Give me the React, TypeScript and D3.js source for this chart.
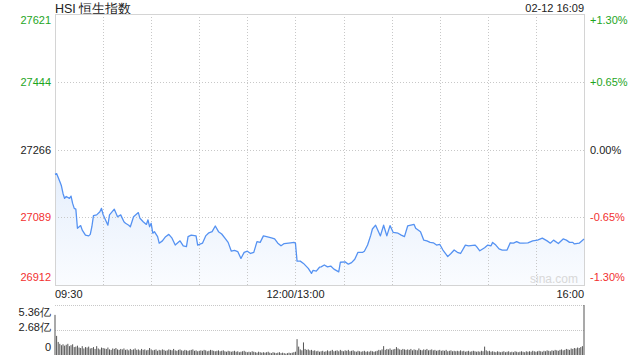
import React from "react";
import * as d3 from "d3";

const title = "HSI 恒生指数";
const stamp = "02-12 16:09";
const prevClose = 27266;
const pctTicks = [1.3, 0.65, 0, -0.65, -1.3];
const leftLabels = ["27621", "27444", "27266", "27089", "26912"];
const rightLabels = ["+1.30%", "+0.65%", "0.00%", "-0.65%", "-1.30%"];
const timeLabels = ["09:30", "12:00/13:00", "16:00"];
const timeLabelMinutes = [0, 150, 330];
const volLabels = ["5.36亿", "2.68亿", "0"];
const volTicks = [5.36, 2.68, 0];

// minutes on trading clock since 09:30 (lunch removed)
const minutes = [
  0, 1, 3, 4, 5, 6, 7, 9, 10, 11, 12, 13, 14, 16, 17, 19, 21, 22, 23, 24, 26, 28, 29, 30, 33, 34, 37, 39, 41, 43,
  44, 46, 47, 49, 52, 53, 55, 57, 58, 59, 60, 61, 62, 64, 65, 67, 69, 71, 73, 75, 78, 80, 82, 83, 85, 88, 89, 92,
  94, 96, 98, 100, 102, 104, 106, 108, 110, 112, 114, 116, 118, 120, 122, 124, 126, 128, 130, 132, 135, 137, 139,
  141, 143, 147, 149, 150, 151, 153, 155, 158, 160, 161, 163, 165, 166, 168, 170, 172, 174, 177, 178, 181, 183,
  185, 187, 189, 192, 193, 195, 197, 198, 200, 203, 205, 207, 209, 211, 214, 216, 218, 220, 222, 224, 225, 228,
  230, 232, 234, 236, 238, 240, 242, 245, 247, 249, 251, 253, 256, 258, 262, 263, 265, 268, 270, 272, 273, 275,
  277, 279, 282, 284, 286, 288, 290, 292, 295, 298, 301, 304, 307, 309, 311, 314, 317, 319, 321, 323, 324, 327, 330,
];
const prices = [
  27201, 27203, 27182, 27171, 27151, 27138, 27143, 27138, 27144, 27125, 27112, 27110, 27060, 27067, 27055, 27042,
  27040, 27044, 27064, 27093, 27095, 27103, 27112, 27096, 27068, 27095, 27110, 27090, 27095, 27077, 27073, 27068,
  27064, 27090, 27101, 27086, 27077, 27070, 27082, 27064, 27073, 27047, 27051, 27038, 27021, 27027, 27038, 27044,
  27034, 27016, 27027, 27014, 27012, 27038, 27042, 27040, 27016, 27021, 27040, 27048, 27051, 27066, 27051, 27045,
  27034, 27023, 27000, 27002, 26999, 26981, 26997, 27000, 26994, 26997, 27025, 27023, 27040, 27038, 27035, 27032,
  27021, 27014, 27020, 27022, 27023, 27021, 26974, 26974, 26968, 26955, 26942, 26950, 26948, 26958, 26959, 26964,
  26959, 26961, 26953, 26946, 26971, 26972, 26966, 26970, 26979, 26997, 26997, 27000, 27016, 27042, 27058, 27068,
  27040, 27068, 27040, 27067, 27049, 27047, 27042, 27038, 27066, 27068, 27070, 27060, 27051, 27029, 27027, 27023,
  27022, 27016, 27018, 27003, 26986, 26994, 27003, 26997, 26994, 27016, 27014, 27016, 27012, 27001, 27009, 27016,
  27014, 27023, 27016, 27006, 27003, 27003, 27022, 27021, 27025, 27021, 27021, 27022, 27027, 27029, 27034, 27027,
  27021, 27029, 27020, 27032, 27029, 27023, 27023, 27019, 27021, 27032,
];

// volume per minute, in 亿
const volumes = [
  4.3,
  2.05, 1.4, 1.2, 1.05, 1.15, 1.0, 1.1, 1.2, 0.95, 1.05,
  1.15, 0.85, 0.9, 1.0, 0.8, 0.75, 0.95, 0.7, 0.85, 0.8,
  0.9, 0.7, 0.75, 0.85, 0.65, 0.95, 0.7, 0.6, 0.8, 0.75,
  0.7, 0.65, 0.8, 0.6, 0.55, 0.7, 0.65, 0.75, 0.6, 0.55,
  0.65, 0.6, 0.7, 0.55, 0.6, 0.5, 0.65, 0.55, 0.6, 0.7,
  0.55, 0.6, 0.5, 0.65, 0.55, 0.6, 0.5, 0.55, 0.75, 0.6,
  0.5, 0.55, 0.6, 0.45, 0.55, 0.5, 0.6, 0.55, 0.45, 0.5,
  0.6, 0.55, 0.5, 0.65, 0.5, 0.45, 0.55, 0.6, 0.5, 0.45,
  0.55, 0.5, 0.45, 0.5, 0.55, 0.6, 0.45, 0.5, 0.4, 0.45,
  0.5, 0.45, 0.55, 0.5, 0.4, 0.45, 0.55, 0.5, 0.45, 0.4,
  0.45, 0.5, 0.4, 0.45, 0.5, 0.4, 0.35, 0.45, 0.4, 0.35,
  0.4, 0.45, 0.35, 0.4, 0.3, 0.35, 0.4, 0.45, 0.35, 0.3,
  0.35, 0.3, 0.4, 0.35, 0.3, 0.25, 0.35, 0.3, 0.25, 0.3,
  0.25, 0.3, 0.35, 0.25, 0.2, 0.3, 0.25, 0.2, 0.25, 0.3,
  0.2, 0.25, 0.2, 0.15, 0.2, 0.25, 0.2, 0.25, 0.3, 0.35,
  1.7, 0.9, 0.6, 0.5, 1.35, 0.65, 0.55, 0.6, 0.5, 0.55,
  0.45, 0.5, 0.4, 0.45, 0.35, 0.4, 0.45, 0.35, 0.4, 0.5,
  0.4, 0.45, 0.55, 0.4, 0.45, 0.5, 0.4, 0.55, 0.45, 0.4,
  0.5, 0.45, 0.55, 0.4, 0.45, 0.5, 0.4, 0.35, 0.45, 0.4,
  0.35, 0.4, 0.45, 0.35, 0.4, 0.35, 0.45, 0.4, 0.35, 0.4,
  0.45, 0.55, 0.5, 0.6, 0.95, 0.55, 0.65, 0.6, 0.7, 0.55,
  0.6, 0.65, 0.85, 0.7, 0.6, 0.55, 0.65, 0.6, 0.55, 0.6,
  0.55, 0.65, 0.5, 0.6, 0.55, 0.5, 0.7, 0.55, 0.5, 0.6,
  0.55, 0.65, 0.5, 0.55, 0.6, 0.5, 0.55, 0.45, 0.5, 0.55,
  0.45, 0.5, 0.45, 0.55, 0.4, 0.45, 0.5, 0.4, 0.45, 0.4,
  0.45, 0.4, 0.5, 0.4, 0.45, 0.35, 0.4, 0.45, 0.35, 0.4,
  0.45, 0.4, 0.35, 0.4, 0.35, 0.45, 0.4, 0.9, 0.5, 0.4,
  0.45, 0.35, 0.4, 0.35, 0.3, 0.4, 0.35, 0.3, 0.35, 0.4,
  0.3, 0.35, 0.4, 0.3, 0.35, 0.3, 0.4, 0.35, 0.3, 0.35,
  0.4, 0.35, 0.3, 0.4, 0.35, 0.4, 0.35, 0.45, 0.4, 0.35,
  0.4, 0.45, 0.4, 0.35, 0.45, 0.4, 0.5, 0.45, 0.4, 0.5,
  0.45, 0.55, 0.5, 0.45, 0.55, 0.6, 0.5, 0.55, 0.65, 0.6,
  0.55, 0.7, 0.65, 0.75, 0.7, 0.8, 0.75, 0.85, 0.95, 5.36,
];

const GREEN = "#1ea51e";
const RED = "#f23030";
const DARK = "#222";
const FONT = "Arial, 'Liberation Sans', Helvetica, sans-serif";

export default function App() {
  const W = 640;
  const H = 360;
  const left = 55;
  const right = 584;
  const top = 14;
  const bottom = 285;
  const vTop = 305;
  const vBottom = 355;

  const x = d3.scaleLinear().domain([0, 330]).range([left, right]);
  const y = d3
    .scaleLinear()
    .domain([prevClose * (1 - 0.013), prevClose * (1 + 0.013)])
    .range([bottom, top]);
  const yv = d3.scaleLinear().domain([0, 5.36]).range([vBottom, vTop]);

  const pts = minutes.map((m, i) => [m, prices[i]] as [number, number]);
  const line = d3
    .line<[number, number]>()
    .x((d) => x(d[0]))
    .y((d) => y(d[1]));
  const area = d3
    .area<[number, number]>()
    .x((d) => x(d[0]))
    .y0(bottom)
    .y1((d) => y(d[1]));

  const colorFor = (p: number) => (p > 0 ? GREEN : p < 0 ? RED : DARK);
  const labelY = (i: number) => {
    const yy = y(prevClose * (1 + pctTicks[i] / 100));
    if (i === 0) return yy + 10;
    if (i === pctTicks.length - 1) return yy - 4;
    return yy + 4;
  };
  const vGrid = d3.range(1, 11).map((k) => k * 30);

  return (
    <div style={{ position: "fixed", left: 0, top: 0 }}>
      <svg width={W} height={H} style={{ display: "block", background: "#fff" }} fontFamily={FONT}>
        <defs>
          <linearGradient id="fillGrad" x1="0" y1="0" x2="0" y2="1">
            <stop offset="0%" stopColor="#e6effc" />
            <stop offset="100%" stopColor="#fafcff" />
          </linearGradient>
        </defs>
        {/* title */}
        <text x={left} y={12.5} fontSize={12.5} fill="#222">
          {title}
        </text>
        <text x={right} y={11.5} fontSize={11} fill="#222" textAnchor="end">
          {stamp}
        </text>

        {/* area + grid */}
        <path d={area(pts) || ""} fill="url(#fillGrad)" />
        {vGrid.map((m) => (
          <line
            key={"vg" + m}
            x1={Math.round(x(m)) + 0.5}
            x2={Math.round(x(m)) + 0.5}
            y1={top}
            y2={bottom}
            stroke="#c8c8c8"
            strokeDasharray="1,2"
          />
        ))}
        {pctTicks.slice(1, 4).map((p) => (
          <line
            key={"hg" + p}
            x1={left}
            x2={right}
            y1={Math.round(y(prevClose * (1 + p / 100))) + 0.5}
            y2={Math.round(y(prevClose * (1 + p / 100))) + 0.5}
            stroke="#c8c8c8"
            strokeDasharray="1,2"
          />
        ))}
        <rect x={left + 0.5} y={top + 0.5} width={right - left} height={bottom - top} fill="none" stroke="#d4d4d4" />

        <text x={578} y={283} fontSize={12} fill="#d8d8d8" textAnchor="end">
          sina.com
        </text>

        <path d={line(pts) || ""} fill="none" stroke="#5592f2" strokeWidth={1.3} strokeLinejoin="round" />

        {/* axis labels */}
        {leftLabels.map((t, i) => (
          <text key={"l" + t} x={51} y={labelY(i)} fontSize={11} fill={colorFor(pctTicks[i])} textAnchor="end">
            {t}
          </text>
        ))}
        {rightLabels.map((t, i) => (
          <text key={"r" + t} x={590} y={labelY(i)} fontSize={11} fill={colorFor(pctTicks[i])}>
            {t}
          </text>
        ))}
        {timeLabels.map((t, i) => (
          <text
            key={"t" + t}
            x={x(timeLabelMinutes[i])}
            y={298}
            fontSize={11}
            fill="#222"
            textAnchor={i === 0 ? "start" : i === timeLabels.length - 1 ? "end" : "middle"}
          >
            {t}
          </text>
        ))}

        {/* volume panel */}
        {volTicks.slice(0, 2).map((v) => (
          <line
            key={"vv" + v}
            x1={left}
            x2={right}
            y1={Math.round(yv(v)) + 0.5}
            y2={Math.round(yv(v)) + 0.5}
            stroke="#c8c8c8"
            strokeDasharray="1,1"
          />
        ))}
        {volumes.map((v, i) => (
          <rect
            key={"b" + i}
            x={x(i) - 0.5}
            y={yv(v)}
            width={1}
            height={vBottom - yv(v)}
            fill="#555"
          />
        ))}
        {volLabels.map((t, i) => {
          const yy = yv(volTicks[i]);
          const yb = i === 0 ? yy + 11 : i === volLabels.length - 1 ? yy - 4 : yy + 1;
          return (
            <text key={"vl" + t} x={51} y={yb} fontSize={11} fill="#222" textAnchor="end">
              {t}
            </text>
          );
        })}
      </svg>
    </div>
  );
}
